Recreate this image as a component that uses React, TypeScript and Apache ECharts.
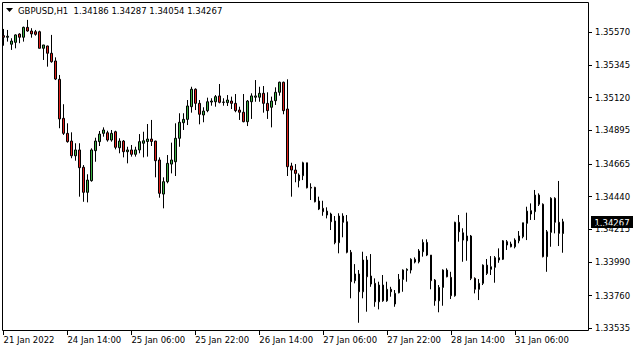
import React, { useEffect, useRef } from "react";
import * as echarts from "echarts";

const symbolName = "GBPUSD,H1";
const tickLabels = [
  "21 Jan 2022", "24 Jan 14:00", "25 Jan 06:00", "25 Jan 22:00", "26 Jan 14:00",
  "27 Jan 06:00", "27 Jan 22:00", "28 Jan 14:00", "31 Jan 06:00",
];
const barsPerTick = 16;
const slotCount = 147;
const priceTicks = [1.3557, 1.35345, 1.3512, 1.34895, 1.34665, 1.3444, 1.34215, 1.3399, 1.3376, 1.33535];

const opens = [
  1.35545, 1.35534, 1.35486, 1.35499, 1.35556, 1.35534, 1.35602, 1.35577, 1.35572, 1.35572,
  1.35458, 1.35474, 1.35424, 1.35371, 1.35245, 1.34977, 1.34874, 1.34821, 1.3472, 1.3476,
  1.34641, 1.34469, 1.34549, 1.34755, 1.34817, 1.34874, 1.34878, 1.34828, 1.34885, 1.34775,
  1.34821, 1.34748, 1.3476, 1.3473, 1.3476, 1.34806, 1.34818, 1.34835, 1.34821, 1.34691,
  1.34457, 1.34542, 1.34663, 1.34679, 1.3484, 1.34947, 1.3497, 1.35057, 1.35177, 1.3508,
  1.35, 1.3503, 1.35089, 1.35091, 1.35131, 1.35087, 1.35085, 1.35096, 1.3508, 1.35034,
  1.35019, 1.34954, 1.35091, 1.35122, 1.35122, 1.35149, 1.3508, 1.35053, 1.35098, 1.35156,
  1.35225, 1.35041, 1.3465, 1.34622, 1.34549, 1.34583, 1.34672, 1.34503, 1.34503, 1.34409,
  1.34359, 1.3434, 1.3432, 1.34272, 1.34123, 1.34306, 1.34267, 1.34057, 1.33862, 1.33908,
  1.33786, 1.34004, 1.33894, 1.33844, 1.33717, 1.33832, 1.33724, 1.33803, 1.33702, 1.33779,
  1.33871, 1.33933, 1.33935, 1.34009, 1.33992, 1.34061, 1.34125, 1.34038, 1.33866, 1.33724,
  1.33816, 1.33935, 1.33885, 1.33759, 1.34263, 1.34191, 1.34136, 1.34169, 1.33878, 1.33803,
  1.33844, 1.33969, 1.3394, 1.33954, 1.34004, 1.34009, 1.3413, 1.34114, 1.34095, 1.34136,
  1.34164, 1.34256, 1.34343, 1.34336, 1.3445, 1.34387, 1.34027, 1.34194, 1.34428, 1.34263,
  1.34186,
];
const highs = [
  1.35591, 1.35584, 1.35527, 1.35554, 1.35561, 1.35607, 1.35653, 1.35596, 1.35584, 1.35579,
  1.35481, 1.35476, 1.3555, 1.35396, 1.35275, 1.35074, 1.34943, 1.34881, 1.34806, 1.34806,
  1.34656, 1.34593, 1.34771, 1.34844, 1.3489, 1.34915, 1.34892, 1.34897, 1.34892, 1.3484,
  1.34828, 1.34782, 1.34794, 1.34782, 1.34869, 1.34885, 1.34938, 1.34966, 1.34823, 1.34709,
  1.34572, 1.34725, 1.3481, 1.34943, 1.35012, 1.35012, 1.35103, 1.35194, 1.35183, 1.35103,
  1.35053, 1.35119, 1.35115, 1.35137, 1.35213, 1.35115, 1.35137, 1.35126, 1.35144, 1.35057,
  1.35144, 1.35103, 1.35149, 1.3524, 1.35194, 1.35199, 1.35156, 1.35126, 1.3519, 1.35229,
  1.35229, 1.35245, 1.34672, 1.34663, 1.34599, 1.34679, 1.34672, 1.34531, 1.34507, 1.34439,
  1.34411, 1.34366, 1.34329, 1.34306, 1.34325, 1.34325, 1.34313, 1.34073, 1.33976, 1.33935,
  1.34061, 1.34031, 1.34045, 1.33878, 1.33855, 1.33901, 1.33855, 1.3382, 1.33798, 1.33908,
  1.3394, 1.33947, 1.34016, 1.34022, 1.34079, 1.34146, 1.34146, 1.34038, 1.33873, 1.33832,
  1.3394, 1.33947, 1.33923, 1.34267, 1.34313, 1.34222, 1.34329, 1.34176, 1.33885, 1.33873,
  1.33974, 1.34011, 1.34031, 1.34031, 1.34084, 1.34141, 1.34141, 1.3413, 1.34153, 1.34203,
  1.3426, 1.3437, 1.34393, 1.34485, 1.34462, 1.34393, 1.3421, 1.34435, 1.34435, 1.34547,
  1.34287,
];
const lows = [
  1.35476, 1.35504, 1.35447, 1.35458, 1.35493, 1.35504, 1.35572, 1.35531, 1.35545, 1.35458,
  1.35378, 1.35332, 1.35359, 1.3524, 1.34909, 1.34863, 1.3481, 1.34703, 1.34686, 1.34439,
  1.34404, 1.344, 1.34542, 1.34679, 1.34787, 1.34851, 1.34817, 1.34817, 1.34764, 1.34737,
  1.34709, 1.34668, 1.34714, 1.34714, 1.34737, 1.34709, 1.34714, 1.34787, 1.34572, 1.34432,
  1.34359, 1.34531, 1.34599, 1.34581, 1.34782, 1.34897, 1.34931, 1.35016, 1.35034, 1.34936,
  1.3495, 1.35019, 1.35064, 1.35057, 1.3508, 1.35064, 1.35062, 1.35041, 1.35019, 1.34966,
  1.3495, 1.34924, 1.34973, 1.35091, 1.35091, 1.35016, 1.34973, 1.34915, 1.35069, 1.35133,
  1.35005, 1.34581, 1.34439, 1.34538, 1.34503, 1.34553, 1.34496, 1.34416, 1.344, 1.34347,
  1.34308, 1.3429, 1.3421, 1.34112, 1.3405, 1.3416, 1.3405, 1.33741, 1.33844, 1.33573,
  1.33741, 1.33649, 1.3382, 1.33683, 1.33665, 1.33717, 1.33717, 1.33752, 1.33683, 1.33775,
  1.33786, 1.33855, 1.33912, 1.33981, 1.33981, 1.34027, 1.34031, 1.33803, 1.3369, 1.33645,
  1.3369, 1.33885, 1.33736, 1.33752, 1.3413, 1.33992, 1.33999, 1.33866, 1.33775, 1.33729,
  1.33832, 1.33901, 1.33901, 1.33848, 1.33985, 1.34004, 1.34073, 1.34091, 1.34084, 1.34119,
  1.34153, 1.34141, 1.34279, 1.34279, 1.34375, 1.34022, 1.33923, 1.34095, 1.34187, 1.341,
  1.34054,
];
const closes = [
  1.35534, 1.35541, 1.35508, 1.3555, 1.35534, 1.35602, 1.35577, 1.35557, 1.35554, 1.35458,
  1.35481, 1.35424, 1.35366, 1.35247, 1.34973, 1.34874, 1.34817, 1.3472, 1.3476, 1.34638,
  1.34469, 1.34553, 1.3476, 1.34821, 1.34869, 1.34897, 1.34828, 1.34874, 1.34778, 1.34821,
  1.34748, 1.3476, 1.3473, 1.3476, 1.34817, 1.34823, 1.34835, 1.34818, 1.34686, 1.34462,
  1.34542, 1.34668, 1.34691, 1.3484, 1.3495, 1.3497, 1.35062, 1.35177, 1.3508, 1.35005,
  1.35027, 1.35091, 1.35096, 1.35126, 1.35087, 1.35089, 1.35103, 1.3508, 1.3503, 1.35019,
  1.34954, 1.35096, 1.35131, 1.35131, 1.35149, 1.3508, 1.3503, 1.35096, 1.35156, 1.35225,
  1.3503, 1.34645, 1.34622, 1.34599, 1.34588, 1.34672, 1.345, 1.34498, 1.34404, 1.34354,
  1.34336, 1.34313, 1.34267, 1.34123, 1.34306, 1.34263, 1.34057, 1.33855, 1.33908, 1.33786,
  1.34004, 1.33889, 1.33839, 1.33717, 1.33832, 1.33724, 1.33803, 1.33786, 1.33775, 1.33871,
  1.33935, 1.3394, 1.34009, 1.3399, 1.34066, 1.34125, 1.34038, 1.33862, 1.33724, 1.33816,
  1.33935, 1.33889, 1.33759, 1.34263, 1.34198, 1.34141, 1.34169, 1.33878, 1.33803, 1.33844,
  1.33969, 1.33912, 1.33958, 1.3402, 1.3402, 1.34136, 1.34107, 1.34095, 1.34141, 1.34169,
  1.3426, 1.3434, 1.3432, 1.3445, 1.34387, 1.34027, 1.34198, 1.34428, 1.34263, 1.34187,
  1.34267,
];

const FONT = "'DejaVu Sans', Tahoma, sans-serif";

export default function App() {
  const ref = useRef<HTMLDivElement>(null);
  useEffect(() => {
    if (!ref.current) return;
    const chart = echarts.init(ref.current, null, { renderer: "svg" });
    const last = opens.length - 1;
    const cats = Array.from({ length: slotCount }, (_, i) => String(i));
    const data = opens.map((o, i) => [o, closes[i], lows[i], highs[i]]);
    const showTick = (i: number) => i % barsPerTick === 0 && i / barsPerTick < tickLabels.length;
    const header = `${symbolName}  ${opens[last].toFixed(5)} ${highs[last].toFixed(5)} ${lows[last].toFixed(5)} ${closes[last].toFixed(5)}`;

    const baseGraphics: any[] = [
      {
        type: "rect",
        id: "frame",
        shape: { x: 2.5, y: 2.5, width: 586, height: 328 },
        style: { fill: "none", stroke: "#000", lineWidth: 1 },
        silent: true,
      },
      {
        type: "polygon",
        id: "tri",
        shape: { points: [[6, 8], [13, 8], [9.5, 12]] },
        style: { fill: "#000" },
        silent: true,
      },
      {
        type: "text",
        id: "hdr",
        x: 18,
        y: 10.5,
        style: {
          text: header,
          fill: "#000",
          font: `8.5px ${FONT}`,
          verticalAlign: "middle",
          align: "left",
        },
        silent: true,
      },
    ];

    chart.setOption({
      animation: false,
      backgroundColor: "#ffffff",
      grid: { left: 1.5, right: 46, top: 3, bottom: 21, show: false },
      xAxis: {
        type: "category",
        data: cats,
        boundaryGap: true,
        axisLine: { show: false },
        axisTick: {
          show: true,
          alignWithLabel: true,
          length: 4,
          interval: (i: number) => showTick(i),
          lineStyle: { color: "#000", width: 1 },
        },
        axisLabel: {
          interval: (i: number) => showTick(i),
          formatter: (_v: string, i: number) => tickLabels[i / barsPerTick] ?? "",
          align: "left",
          margin: 4,
          color: "#000",
          fontFamily: FONT,
          fontSize: 8.5,
        },
        splitLine: { show: false },
      },
      yAxis: {
        type: "value",
        position: "right",
        min: 1.335165,
        max: 1.357692,
        axisLine: { show: false },
        axisTick: {
          show: true,
          length: 3,
          customValues: priceTicks,
          lineStyle: { color: "#000", width: 1 },
        },
        axisLabel: {
          customValues: priceTicks,
          formatter: (v: number) => v.toFixed(5),
          margin: 6,
          color: "#000",
          fontFamily: FONT,
          fontSize: 8.5,
        },
        splitLine: { show: false },
      },
      graphic: baseGraphics,
      series: [
        {
          type: "candlestick",
          data,
          barWidth: 2,
          itemStyle: {
            color: "#3cb043",
            color0: "#e0201b",
            borderColor: "#000",
            borderColor0: "#000",
            borderColorDoji: "#000",
            borderWidth: 1,
          },
        },
      ],
    });

    // current price marker on the right axis, placed through the y scale
    const py = chart.convertToPixel({ yAxisIndex: 0 }, closes[last]) as number;
    chart.setOption({
      graphic: [
        ...baseGraphics,
        {
          type: "group",
          id: "priceTag",
          x: 591,
          y: Math.round(py) - 6,
          z: 100,
          children: [
            {
              type: "rect",
              shape: { x: 0, y: 0, width: 42, height: 12 },
              style: { fill: "#000" },
            },
            {
              type: "text",
              x: 21,
              y: 6.5,
              style: {
                text: closes[last].toFixed(5),
                fill: "#fff",
                font: `8.5px ${FONT}`,
                align: "center",
                verticalAlign: "middle",
              },
            },
          ],
        },
      ],
    });
    return () => chart.dispose();
  }, []);
  return (
    <div
      ref={ref}
      style={{ position: "fixed", left: 0, top: 0, width: 635, height: 352, background: "#fff" }}
    />
  );
}
